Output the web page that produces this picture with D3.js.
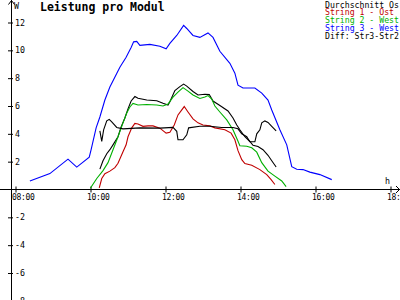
<!DOCTYPE html>
<html>
<head>
<meta charset="utf-8">
<title>Leistung pro Modul</title>
<script src="https://d3js.org/d3.v7.min.js"></script>
<style>
  body { margin: 0; background: #fff; }
  svg { display: block; }
  text { font-family: "DejaVu Sans Mono", "Liberation Mono", monospace; }
</style>
</head>
<body>
<div id="chart"></div>
<script>
// values (time, watt)
const avg = [["10:15",1.46],["10:20",2.07],["10:26",2.57],["10:31",2.86],["10:36",3.21],["10:44",3.79],
  ["10:49",4.5],["10:55",5.14],["11:00",5.79],["11:05",6.36],["11:11",6.68],["11:16",6.55],["11:30",6.43],
  ["11:46",6.38],["11:56",6.19],["12:04",6.07],["12:07",6.31],["12:15",7.11],["12:23",7.39],["12:29",7.57],
  ["12:34",7.43],["12:44",7.04],["12:52",6.79],["13:03",6.84],["13:10",6.82],["13:16",6.36],["13:27",6.04],
  ["13:40",5.64],["13:48",5.14],["13:54",4.64],["13:59",4.29],["14:07",3.79],["14:15",3.45],["14:20",3.18],
  ["14:28",3.09],["14:36",2.86],["14:44",2.46],["14:50",2.07],["14:57",1.62]];
const str1 = [["10:14",0.11],["10:18",0.79],["10:23",1.14],["10:31",1.32],["10:39",1.57],["10:44",1.89],
  ["10:52",2.71],["10:57",3.21],["11:00",3.79],["11:06",4.43],["11:11",4.75],["11:16",4.71],["11:24",4.54],
  ["11:32",4.57],["11:40",4.57],["11:51",4.41],["12:01",4.05],["12:07",4.11],["12:14",4.64],["12:20",5.36],
  ["12:30",5.96],["12:36",5.57],["12:44",5.07],["12:52",4.79],["13:00",4.64],["13:11",4.57],["13:19",4.43],
  ["13:35",4.29],["13:45",4.05],["13:51",3.57],["13:56",2.79],["14:02",2.14],["14:07",1.86],["14:18",1.74],
  ["14:31",1.43],["14:42",1.07],["14:49",0.71],["14:55",0.36]];
const str2 = [["10:00",0.11],["10:10",0.79],["10:20",1.36],["10:28",1.93],["10:36",2.86],["10:44",3.79],
  ["10:52",4.79],["10:58",5.5],["11:03",5.93],["11:08",6.18],["11:16",6.07],["11:30",6.11],["11:46",6.07],
  ["11:56",6.0],["12:04",6.14],["12:12",6.64],["12:20",7.0],["12:28",7.32],["12:36",7.07],["12:44",6.79],
  ["12:55",6.54],["13:03",6.64],["13:08",6.75],["13:14",6.5],["13:19",6.0],["13:27",5.57],["13:38",5.0],
  ["13:48",4.29],["13:55",3.57],["13:59",3.14],["14:10",3.11],["14:18",3.0],["14:26",2.68],["14:34",1.93],
  ["14:44",1.32],["14:55",0.96],["15:06",0.61],["15:13",0.21]];
const str3 = [["08:23",0.61],["08:55",1.14],["09:24",2.18],["09:38",1.61],["09:58",2.32],["10:01",2.86],
  ["10:09",4.43],["10:15",5.21],["10:23",6.43],["10:31",7.36],["10:47",8.79],["10:57",9.5],["11:05",10.21],
  ["11:09",10.61],["11:14",10.64],["11:19",10.36],["11:35",10.43],["11:51",10.29],["12:01",10.11],
  ["12:07",10.5],["12:18",11.07],["12:29",11.79],["12:34",11.57],["12:44",11.07],["12:55",10.93],
  ["13:08",11.25],["13:16",10.93],["13:27",9.93],["13:43",9.07],["13:51",8.36],["13:56",7.5],["14:04",7.29],
  ["14:23",7.29],["14:34",6.93],["14:44",6.43],["14:50",5.71],["15:03",4.29],["15:14",3.21],["15:22",1.64],
  ["15:30",1.46],["15:40",1.43],["15:51",1.25],["16:07",1.07],["16:26",0.71]];
const diff = [["10:15",4.21],["10:18",3.46],["10:21",4.29],["10:26",4.93],["10:30",5.04],["10:34",4.86],
  ["10:42",4.46],["10:52",4.36],["11:19",4.43],["11:51",4.41],["12:12",4.46],["12:18",4.18],["12:20",3.57],
  ["12:28",3.57],["12:34",3.93],["12:37",4.43],["12:55",4.54],["13:11",4.54],["13:30",4.46],["13:48",4.46],
  ["13:56",4.36],["14:02",4.0],["14:10",3.79],["14:15",3.43],["14:23",3.43],["14:26",4.0],["14:31",4.29],
  ["14:34",4.79],["14:39",4.93],["14:44",4.82],["14:50",4.54],["14:57",4.21]];

const seriesNames = ["Durchschnitt Os", "String 1 - Ost", "String 2 - West", "String 3 - West", "Diff: Str3-Str2"];
const seriesColors = ["#000000", "#c00000", "#00b000", "#0000ff", "#000000"];
const seriesData = [avg, str1, str2, str3, diff];

const xTicks = ["08:00", "10:00", "12:00", "14:00", "16:00", "18:00"];
const yTicks = [12, 10, 8, 6, 4, 2, -2, -4, -6, -8];

const W = 400, H = 300;
const hours = s => +s.slice(0, 2) + s.slice(3) / 60;

const x = d3.scaleLinear().domain([8, 18]).range([15.5, 390.5]);
const y = d3.scaleLinear().domain([0, 12]).range([189.5, 22.5]);

const svg = d3.select("#chart").append("svg")
    .attr("width", W)
    .attr("height", H);

// y axis
const yAxis = svg.append("g")
    .attr("transform", "translate(11,0)")
    .call(d3.axisRight(y).tickValues(yTicks).tickSize(2).tickPadding(2).tickFormat(d => String(d)));
yAxis.select(".domain").remove();
yAxis.selectAll(".tick line").attr("x1", -3).attr("x2", 2).attr("stroke", "#000");
yAxis.selectAll(".tick text").attr("font-size", 8.3).attr("fill", "#000")
    .attr("font-family", "DejaVu Sans Mono");

// x axis
const xAxis = svg.append("g")
    .attr("transform", "translate(0," + y(0) + ")")
    .call(d3.axisBottom(x).tickValues(xTicks.map(hours)).tickFormat((d, i) => xTicks[i]));
xAxis.select(".domain").remove();
xAxis.selectAll(".tick line").attr("y1", -3).attr("y2", 3).attr("stroke", "#000");
xAxis.selectAll(".tick text")
    .attr("text-anchor", "start").attr("x", -4).attr("y", 10).attr("dy", null)
    .attr("font-size", 8).attr("letter-spacing", -0.3).attr("fill", "#000")
    .attr("font-family", "DejaVu Sans Mono");

// axis lines + arrows
svg.append("line").attr("x1", 11.5).attr("x2", 11.5).attr("y1", 0).attr("y2", H)
    .attr("stroke", "#000").attr("shape-rendering", "crispEdges");
svg.append("line").attr("x1", 0).attr("x2", W).attr("y1", y(0)).attr("y2", y(0))
    .attr("stroke", "#000").attr("shape-rendering", "crispEdges");
svg.append("path").attr("d", "M8.5,4.5L11.5,0.5L14.5,4.5").attr("fill", "none").attr("stroke", "#000");
svg.append("path").attr("d", "M396,186L399.5," + y(0) + "L396,193").attr("fill", "none").attr("stroke", "#000");
svg.append("text").attr("x", 14).attr("y", 8.5).attr("font-size", 8.3).text("W");
svg.append("text").attr("x", 385).attr("y", 183.5).attr("font-size", 8.3).text("h");

// title
svg.append("text").attr("x", 40).attr("y", 11)
    .attr("font-size", 11.5).attr("font-weight", "bold")
    .text("Leistung pro Modul");

// lines
const line = d3.line()
    .x(d => x(hours(d[0])))
    .y(d => y(d[1]));

seriesData.forEach((data, i) => {
    svg.append("path")
        .datum(data)
        .attr("d", line)
        .attr("fill", "none")
        .attr("stroke", seriesColors[i])
        .attr("stroke-width", 1.1);
});

// legend
svg.selectAll(".leg")
    .data(seriesNames)
    .enter()
    .append("text")
    .attr("class", "leg")
    .attr("x", 325)
    .attr("y", (d, i) => 7.5 + i * 7.75)
    .attr("font-size", 8.2)
    .attr("fill", (d, i) => seriesColors[i])
    .text(d => d);
</script>
</body>
</html>
